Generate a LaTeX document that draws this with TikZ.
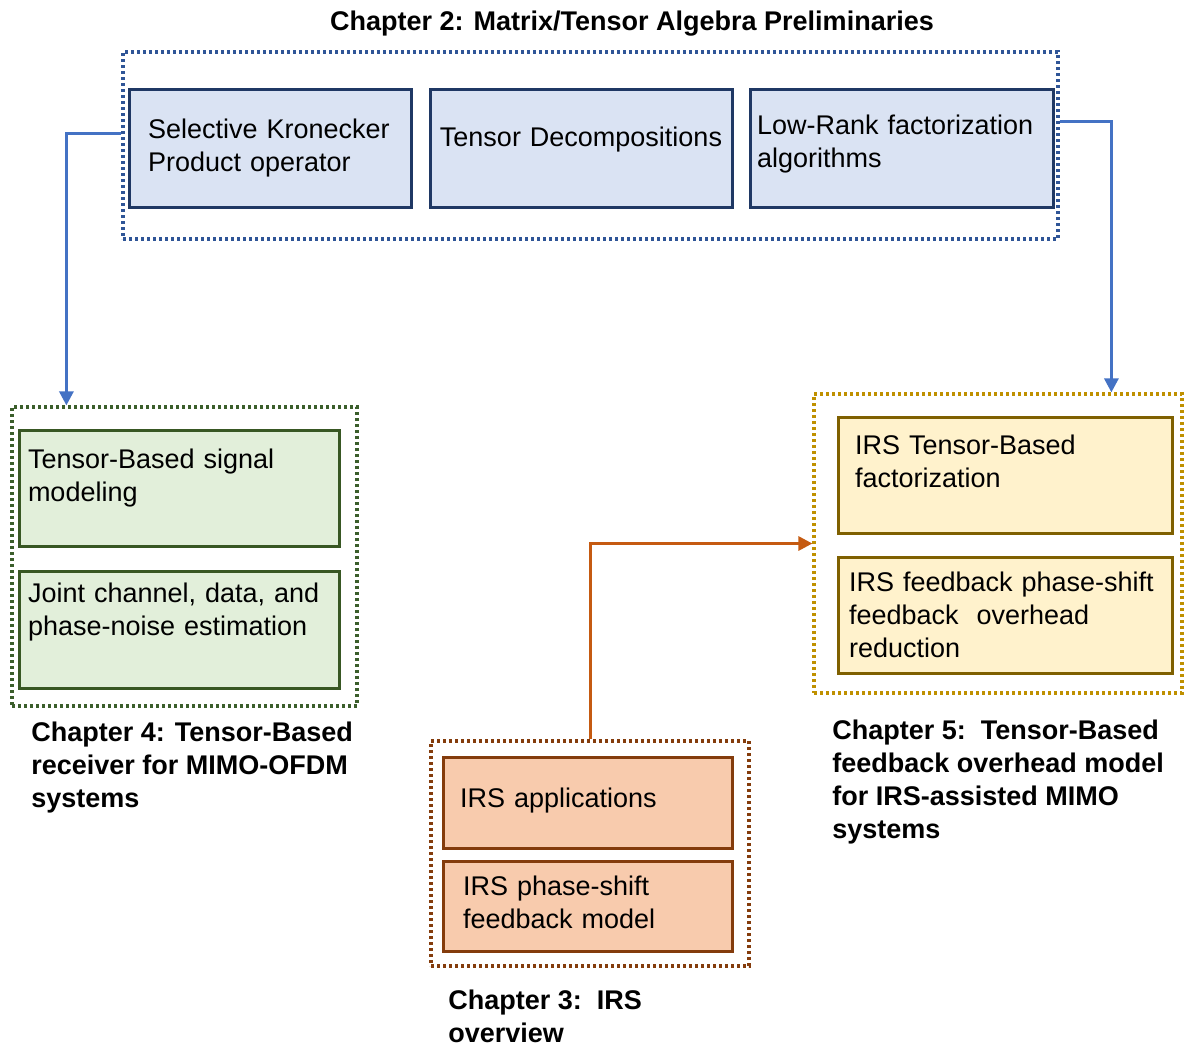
\documentclass[tikz,border=0pt]{standalone}
\usepackage{fontspec}
\setmainfont{Liberation Sans}
\usetikzlibrary{arrows.meta}
\definecolor{blueFill}{HTML}{DAE3F3}
\definecolor{blueEdge}{HTML}{1F3864}
\definecolor{blueDot}{HTML}{2F5597}
\definecolor{blueArrow}{HTML}{4472C4}
\definecolor{greenFill}{HTML}{E2EFDA}
\definecolor{greenEdge}{HTML}{385723}
\definecolor{greenDot}{HTML}{3B5E2B}
\definecolor{yellowFill}{HTML}{FFF2CC}
\definecolor{yellowEdge}{HTML}{7F6000}
\definecolor{yellowDot}{HTML}{BF9000}
\definecolor{orangeFill}{HTML}{F8CBAD}
\definecolor{orangeEdge}{HTML}{843C0C}
\definecolor{orangeDot}{HTML}{843C0C}
\definecolor{orangeArrow}{HTML}{C55A11}
\begin{document}
\begin{tikzpicture}[x=0.5pt,y=-0.5pt,
    every node/.style={font=\fontsize{13.5}{16.5}\selectfont},
    inbox/.style={draw,line width=1.5pt,align=left,inner ysep=0pt},
    chapbox/.style={draw,line width=1.6pt,dash pattern=on 1.4pt off 1.6pt,inner sep=0pt},
    chaptitle/.style={font=\fontsize{13.5}{16.5}\selectfont\bfseries,align=left,anchor=north west,inner sep=0pt},
    link/.style={line width=1.5pt,-{Triangle[width=7pt,length=7pt]}}]
  \useasboundingbox (0,0) rectangle (1184,1046);
  % chapter frames
  \node[chapbox,draw=blueDot,minimum width=467.5pt,minimum height=93.5pt] (ch2) at (590.5,145.5) {};
  \node[chapbox,draw=greenDot,minimum width=172.5pt,minimum height=149.5pt] (ch4) at (184.5,556.5) {};
  \node[chapbox,draw=yellowDot,minimum width=184pt,minimum height=149.5pt] (ch5) at (998,543.5) {};
  \node[chapbox,draw=orangeDot,minimum width=159pt,minimum height=112.5pt] (ch3) at (590,853.5) {};
  % chapter 2
  \node[inbox,fill=blueFill,draw=blueEdge,minimum width=141pt,minimum height=59pt,inner xsep=9.5pt,text width=122pt] (skp) at (270,148) {Selective Kronecker\\Product operator};
  \node[inbox,fill=blueFill,draw=blueEdge,minimum width=151pt,minimum height=59pt,inner xsep=2pt,text width=147pt,align=center,text depth=11pt] (tdec) at (581,148) {Tensor Decompositions};
  \node[inbox,fill=blueFill,draw=blueEdge,minimum width=151.5pt,minimum height=59pt,inner xsep=3.5pt,text width=144.5pt,text depth=23.3pt] (lrank) at (901.5,148) {Low-Rank factorization\\algorithms};
  % chapter 4
  \node[inbox,fill=greenFill,draw=greenEdge,minimum width=160pt,minimum height=58pt,inner xsep=4.5pt,text width=151pt,text depth=29.3pt] (sigmod) at (179,488) {Tensor-Based signal\\modeling};
  \node[inbox,fill=greenFill,draw=greenEdge,minimum width=160pt,minimum height=58.5pt,inner xsep=4.5pt,text width=151pt,text depth=36.8pt] (joint) at (179,629.5) {Joint channel, data, and\\phase-noise estimation};
  % chapter 5
  \node[inbox,fill=yellowFill,draw=yellowEdge,minimum width=167pt,minimum height=58pt,inner xsep=8.5pt,text width=150pt,text depth=30pt] (irsfac) at (1005,475) {IRS Tensor-Based\\factorization};
  \node[inbox,fill=yellowFill,draw=yellowEdge,minimum width=167pt,minimum height=58pt,inner xsep=5.5pt,text width=156pt] (irsred) at (1005,615) {IRS feedback phase-shift\\feedback\ \ overhead\\reduction};
  % chapter 3
  \node[inbox,fill=orangeFill,draw=orangeEdge,minimum width=144.5pt,minimum height=45.5pt,inner xsep=8.5pt,text width=127.5pt,text depth=4.3pt] (irsapp) at (587.5,802.5) {IRS applications};
  \node[inbox,fill=orangeFill,draw=orangeEdge,minimum width=144.5pt,minimum height=45pt,inner xsep=10pt,text width=124.5pt,text depth=20.3pt] (irsfb) at (587.5,906) {IRS phase-shift\\feedback model};
  % titles
  \node[chaptitle,anchor=center] (t2) at (632,24) {Chapter 2: Matrix/Tensor Algebra Preliminaries};
  \node[chaptitle] (t4) at (31,722) {Chapter 4: Tensor-Based\\receiver for MIMO-OFDM\\systems};
  \node[chaptitle] (t5) at (832,720) {Chapter 5:\ \ Tensor-Based\\feedback overhead model\\for IRS-assisted MIMO\\systems};
  \node[chaptitle] (t3) at (448,990) {Chapter 3:\ \ IRS\\overview};
  % links
  \draw[link,color=blueArrow] ([yshift=6.25pt]ch2.west) -| ([xshift=28pt]ch4.north west);
  \draw[link,color=blueArrow] ([yshift=12.25pt]ch2.east) -| ([xshift=149.5pt]ch5.north west);
  \draw[link,color=orangeArrow] (ch3.north) |- (ch5.west);
\end{tikzpicture}
\end{document}
